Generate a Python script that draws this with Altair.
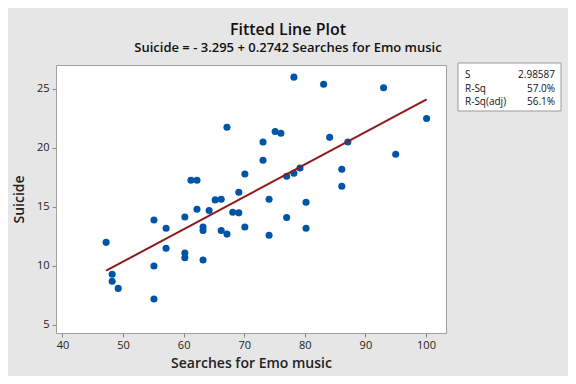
import altair as alt
import pandas as pd

searches = [47.2, 48.2, 48.2, 49.2, 55.1, 55.1, 55.1, 57.1, 57.1, 60.2,
            60.2, 60.2, 61.2, 62.2, 62.2, 63.2, 63.2, 63.2, 64.2, 65.2,
            66.2, 67.15, 66.2, 67.15, 68.1, 69.1, 69.1, 70.1, 70.1, 78.2,
            83.1, 93.0, 100.1, 75.1, 76.05, 73.1, 73.1, 84.1, 87.1, 95.0,
            86.1, 86.1, 79.2, 78.2, 77.0, 74.1, 80.2, 77.0, 74.1, 80.2]
suicide = [12.0, 9.3, 8.7, 8.1, 13.9, 10.0, 7.2, 13.2, 11.5, 14.15,
           11.1, 10.7, 17.26, 17.26, 14.8, 13.3, 13.0, 10.5, 14.7, 15.6,
           15.65, 21.75, 13.0, 12.7, 14.55, 14.5, 16.25, 17.8, 13.3, 26.0,
           25.4, 25.1, 22.5, 21.4, 21.25, 20.5, 18.96, 20.9, 20.5, 19.47,
           18.2, 16.75, 18.3, 17.85, 17.6, 15.65, 15.4, 14.1, 12.6, 13.2]

stat_labels = ["S", "R-Sq", "R-Sq(adj)"]
stat_values = ["2.98587", "57.0%", "56.1%"]

title_text = "Fitted Line Plot"
subtitle_text = "Suicide = - 3.295 + 0.2742 Searches for Emo music"

df = pd.DataFrame({"x": searches, "y": suicide})
FONT = "Open Sans"

xscale = alt.Scale(domain=[38.93, 103.3], nice=False, zero=False)
yscale = alt.Scale(domain=[4.32, 27.03], nice=False, zero=False)

xaxis = alt.Axis(title="Searches for Emo music", values=[40, 50, 60, 70, 80, 90, 100],
                 grid=False, domain=False, tickColor="#888888", tickSize=4,
                 labelFontSize=11, labelColor="#222222", labelFont=FONT,
                 titleFont=FONT, titleFontSize=14, titleFontWeight=600,
                 titleColor="#222222", titlePadding=6, labelPadding=2)
yaxis = alt.Axis(title="Suicide", values=[5, 10, 15, 20, 25],
                 grid=False, domain=False, tickColor="#888888", tickSize=4,
                 labelFontSize=11, labelColor="#222222", labelFont=FONT,
                 titleFont=FONT, titleFontSize=14, titleFontWeight=600,
                 titleColor="#222222", titlePadding=10, labelPadding=3)

base = alt.Chart(df)

points = base.mark_circle(size=50, color="#0054a6", opacity=1).encode(
    x=alt.X("x:Q", scale=xscale, axis=xaxis),
    y=alt.Y("y:Q", scale=yscale, axis=yaxis),
)

line = base.transform_regression("x", "y").mark_line(
    color="#8e1a1a", strokeWidth=2).encode(
    x=alt.X("x:Q", scale=xscale),
    y=alt.Y("y:Q", scale=yscale),
)

box_df = pd.DataFrame({"k": [0]})
box = alt.Chart(box_df).mark_rect(fill="white", stroke="#999999", strokeWidth=1,
                                  clip=False).encode(
    x=alt.value(402), x2=alt.value(505), y=alt.value(-2), y2=alt.value(46))

stat_layers = []
rows_y = [10, 23.5, 37]
for i in range(3):
    d = pd.DataFrame({"lab": [stat_labels[i]], "val": [stat_values[i]]})
    stat_layers.append(alt.Chart(d).mark_text(align="left", baseline="middle",
                        font=FONT, fontSize=10, color="#111111").encode(
        x=alt.value(409), y=alt.value(rows_y[i]), text="lab:N"))
    stat_layers.append(alt.Chart(d).mark_text(align="right", baseline="middle",
                        font=FONT, fontSize=10, color="#111111").encode(
        x=alt.value(499), y=alt.value(rows_y[i]), text="val:N"))

chart = alt.layer(points, line, box, *stat_layers).properties(
    width=390, height=268,
    background="#e6e6e6",
    padding={"left": 48, "top": 57, "right": 122, "bottom": 43},
    autosize=alt.AutoSizeParams(type="none"),
    title=alt.TitleParams(text=title_text, subtitle=subtitle_text, anchor="middle",
                          dx=37, font=FONT, fontSize=16, fontWeight=600,
                          color="#111111", subtitleFont=FONT, subtitleFontSize=13,
                          subtitleFontWeight=600, subtitleColor="#111111",
                          offset=8, subtitlePadding=4),
).configure_view(stroke="#a0a0a0", fill="white", strokeWidth=1)

chart.save("out.html", embed_options={"renderer": "svg", "actions": False})
